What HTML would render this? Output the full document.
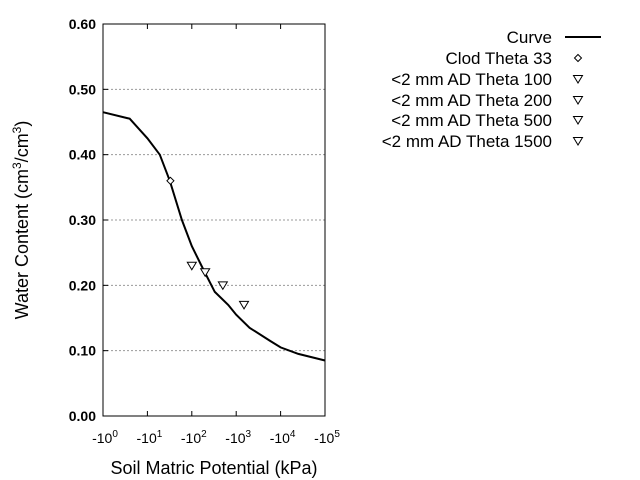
<!DOCTYPE html>
<html><head><meta charset="utf-8"><style>
body{margin:0;background:#fff;}
svg{display:block;font-family:"Liberation Sans",sans-serif;}
</style></head><body>
<svg id="chart" width="640" height="480">
<g id="grid"></g>
<rect x="103" y="24" width="222" height="392" fill="none" stroke="#000" stroke-width="1"/>
<g id="axes"></g>
<g id="series"></g>
<text x="0" y="0" transform="translate(28,220) rotate(-90)" text-anchor="middle" font-size="18">Water Content (cm<tspan dy="-7" font-size="12">3</tspan><tspan dy="7">/cm</tspan><tspan dy="-7" font-size="12">3</tspan><tspan dy="7">)</tspan></text>
<text x="214" y="474" text-anchor="middle" font-size="18">Soil Matric Potential (kPa)</text>
<g id="legend"></g>
</svg>
<script>
const curveH=[1,4,10,19,32,60,100,180,330,660,1000,2000,5800,10000,25000,100000];
const curveTheta=[0.465,0.455,0.425,0.40,0.36,0.30,0.26,0.225,0.19,0.17,0.155,0.135,0.115,0.105,0.095,0.085];
const pointH=[33,100,200,500,1500];
const pointTheta=[0.36,0.23,0.22,0.20,0.17];
const pointShape=["diamond","tri","tri","tri","tri"];
const legendLabels=["Curve","Clod Theta 33","<2 mm AD Theta 100","<2 mm AD Theta 200","<2 mm AD Theta 500","<2 mm AD Theta 1500"];
const yTicks=[0,0.1,0.2,0.3,0.4,0.5,0.6];
const xTickExp=[0,1,2,3,4,5];
const NS="http://www.w3.org/2000/svg";
const X=h=>103+Math.log10(h)*222/5;
const Y=t=>416-t*392/0.6;
function mk(tag,attrs,parent){const e=document.createElementNS(NS,tag);for(const k in attrs)e.setAttribute(k,attrs[k]);parent.appendChild(e);return e;}
const grid=document.getElementById('grid'),axes=document.getElementById('axes'),series=document.getElementById('series'),legend=document.getElementById('legend');
yTicks.forEach(t=>{
  const y=Y(t);
  if(t>0&&t<0.6){const g=mk('line',{x1:103,x2:325,y1:y,y2:y,stroke:'#999','stroke-dasharray':'2,2'},grid);
  
  }
  const tk=mk('line',{x1:103,x2:108,y1:y,y2:y,stroke:'#000'},axes);
  
  
  const lb=mk('text',{x:96,y:y+5,'text-anchor':'end','font-size':'14','font-weight':'bold'},axes);
  lb.textContent=t.toFixed(2);
  
  
});
xTickExp.forEach(e=>{
  const x=X(Math.pow(10,e));
  const tk=mk('line',{x1:x,x2:x,y1:416,y2:411,stroke:'#000'},axes);
  
  
  const tk2=mk('line',{x1:x,x2:x,y1:24,y2:29,stroke:'#000'},axes);
  
  
  const lb=mk('text',{x:x+2,y:443,'text-anchor':'middle','font-size':'14'},axes);
  lb.innerHTML='-10<tspan dy="-6" font-size="10">'+e+'</tspan>';
  
  
});
const path=mk('path',{d:curveH.map((h,i)=>(i?'L':'M')+X(h).toFixed(1)+','+Y(curveTheta[i]).toFixed(1)).join(''),fill:'none',stroke:'#000','stroke-width':'2'},series);


function marker(shape,x,y,p){
  if(shape==='diamond') return mk('path',{d:`M${x},${y-3.5}L${x+3.5},${y}L${x},${y+3.5}L${x-3.5},${y}Z`,fill:'#fff',stroke:'#000','stroke-width':'1'},p);
  return mk('path',{d:`M${x-4.5},${y-3.5}L${x+4.5},${y-3.5}L${x},${y+4}Z`,fill:'#fff',stroke:'#000','stroke-width':'1'},p);
}
pointH.forEach((h,i)=>{
  const m=marker(pointShape[i],X(h),Y(pointTheta[i]),series);
  
  
});
const ly=[37,58,79,100,120,141];
legendLabels.forEach((s,i)=>{
  const t=mk('text',{x:552,y:ly[i]+6,'text-anchor':'end','font-size':'17'},legend);
  t.textContent=s;
  
  
  let m;
  if(i===0) m=mk('line',{x1:565,x2:601,y1:ly[i],y2:ly[i],stroke:'#000','stroke-width':'2'},legend);
  else m=marker(pointShape[i-1],578,ly[i],legend);
  
  
});
</script>
</body></html>
